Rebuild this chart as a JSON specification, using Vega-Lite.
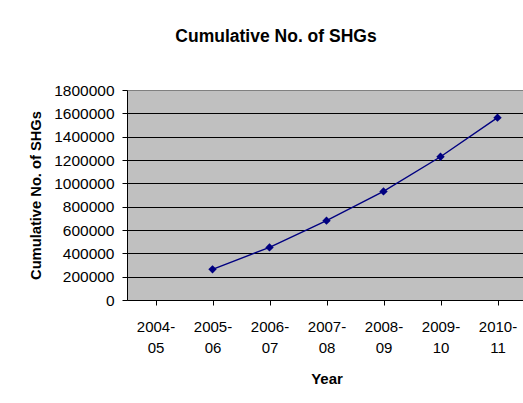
{
  "$schema": "https://vega.github.io/schema/vega-lite/v6.json",
  "width": 396,
  "height": 210,
  "autosize": {"type": "none"},
  "padding": {"left": 127, "top": 90, "right": 0, "bottom": 103},
  "background": "white",
  "title": {
    "text": "Cumulative No. of SHGs",
    "font": "Liberation Sans",
    "fontSize": 17.5,
    "fontWeight": "bold",
    "color": "black",
    "anchor": "middle",
    "offset": 38,
    "dx": -49
  },
  "config": {
    "view": {"fill": "#C0C0C0", "stroke": null}
  },
  "data": {
    "values": [
      {"year": "2005-06", "shgs": 263000},
      {"year": "2006-07", "shgs": 451000},
      {"year": "2007-08", "shgs": 680000},
      {"year": "2008-09", "shgs": 931000},
      {"year": "2009-10", "shgs": 1228000},
      {"year": "2010-11", "shgs": 1563000}
    ]
  },
  "mark": {
    "type": "line",
    "color": "#000080",
    "strokeWidth": 1.4,
    "point": {"shape": "diamond", "filled": true, "size": 70, "color": "#000080"}
  },
  "encoding": {
    "x": {
      "field": "year",
      "type": "nominal",
      "sort": null,
      "scale": {
        "domain": ["2004-05", "2005-06", "2006-07", "2007-08", "2008-09", "2009-10", "2010-11"],
        "range": [0, 399],
        "paddingInner": 0,
        "paddingOuter": 0
      },
      "axis": {
        "title": "Year",
        "titleFont": "Liberation Sans",
        "titleFontSize": 15,
        "titleFontWeight": "bold",
        "titleColor": "black",
        "titlePadding": 16,
        "labelExpr": "[substring(datum.label, 0, 5), substring(datum.label, 5)]",
        "labelAngle": 0,
        "labelFont": "Liberation Sans",
        "labelFontSize": 15,
        "labelColor": "black",
        "labelLineHeight": 21,
        "labelPadding": 14,
        "bandPosition": 0,
        "tickSize": 5,
        "tickColor": "black",
        "domainColor": "black",
        "grid": false
      }
    },
    "y": {
      "field": "shgs",
      "type": "quantitative",
      "scale": {"domain": [0, 1800000], "nice": false},
      "axis": {
        "title": "Cumulative No. of SHGs",
        "titleFont": "Liberation Sans",
        "titleFontSize": 14.7,
        "titleFontWeight": "bold",
        "titleColor": "black",
        "titlePadding": 10,
        "values": [0, 200000, 400000, 600000, 800000, 1000000, 1200000, 1400000, 1600000, 1800000],
        "format": "d",
        "labelFont": "Liberation Sans",
        "labelFontSize": 15.5,
        "labelColor": "black",
        "labelPadding": 8,
        "tickSize": 5,
        "tickColor": "black",
        "domainColor": "black",
        "grid": true,
        "gridColor": {"condition": {"test": "datum.value === 1800000", "value": "#808080"}, "value": "black"},
        "gridOpacity": 1,
        "gridWidth": 1
      }
    }
  }
}
